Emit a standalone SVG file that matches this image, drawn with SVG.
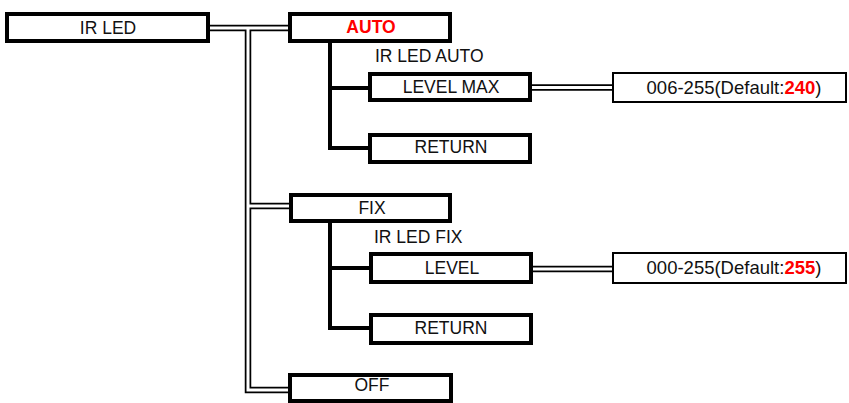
<svg xmlns="http://www.w3.org/2000/svg" width="849" height="403" viewBox="0 0 849 403">
<style>
  .box{fill:#fff;stroke:#000;stroke-width:4}
  .vbox{fill:#fff;stroke:#000;stroke-width:2}
  .t{font-family:"Liberation Sans",Arial,sans-serif;font-size:17.5px;fill:#111;text-anchor:middle}
  .lbl{font-family:"Liberation Sans",Arial,sans-serif;font-size:17.5px;fill:#111}
  .val{font-family:"Liberation Sans",Arial,sans-serif;font-size:18.5px;fill:#111;text-anchor:middle}
  .red{fill:#ff0000;font-weight:bold}
  .dblk{fill:none;stroke:#000;stroke-width:6.5;stroke-linejoin:miter}
  .dwht{fill:none;stroke:#fff;stroke-width:3;stroke-linejoin:miter}
  .thick{fill:none;stroke:#000;stroke-width:4;stroke-linejoin:miter}
</style>
<rect width="849" height="403" fill="#fff"/>
<g id="connectors">
  <path class="dblk" d="M206,28 H292 M248,28 V390 H292 M248,206 H292 M530,87.5 H614 M530,269 H614"/>
  <path class="dwht" d="M206,28 H292 M248,28 V390 H292 M248,206 H292 M530,87.5 H614 M530,269 H614"/>
  <path class="thick" d="M330,41 V148 H372 M330,88 H372 M330,221 V328 H373 M330,268 H373"/>
</g>
<g id="irled">
  <rect class="box" x="7" y="14" width="201" height="27"/>
  <text class="t" x="108" y="33.5">IR LED</text>
</g>
<g id="auto">
  <rect class="box" x="290" y="14" width="160" height="27"/>
  <text class="t red" x="371" y="33">AUTO</text>
</g>
<g id="auto-label">
  <text class="lbl" x="375" y="62">IR LED AUTO</text>
</g>
<g id="levelmax">
  <rect class="box" x="370" y="74" width="160" height="26"/>
  <text class="t" x="451" y="93">LEVEL MAX</text>
</g>
<g id="return1">
  <rect class="box" x="370" y="135" width="160" height="27"/>
  <text class="t" x="451" y="153">RETURN</text>
</g>
<g id="range1">
  <rect class="vbox" x="613" y="73" width="233" height="29"/>
  <text class="val" x="734" y="93.5">006-255(Default:<tspan class="red">240</tspan>)</text>
</g>
<g id="fix">
  <rect class="box" x="291" y="195" width="159" height="26"/>
  <text class="t" x="372" y="213.5">FIX</text>
</g>
<g id="fix-label">
  <text class="lbl" x="374" y="243">IR LED FIX</text>
</g>
<g id="level">
  <rect class="box" x="371" y="254" width="160" height="28"/>
  <text class="t" x="452" y="273.5">LEVEL</text>
</g>
<g id="return2">
  <rect class="box" x="371" y="315" width="160" height="28"/>
  <text class="t" x="451" y="334">RETURN</text>
</g>
<g id="range2">
  <rect class="vbox" x="613" y="253" width="233" height="30"/>
  <text class="val" x="734" y="273.5">000-255(Default:<tspan class="red">255</tspan>)</text>
</g>
<g id="off">
  <rect class="box" x="290" y="375" width="161" height="26"/>
  <text class="t" x="372" y="391">OFF</text>
</g>
</svg>
